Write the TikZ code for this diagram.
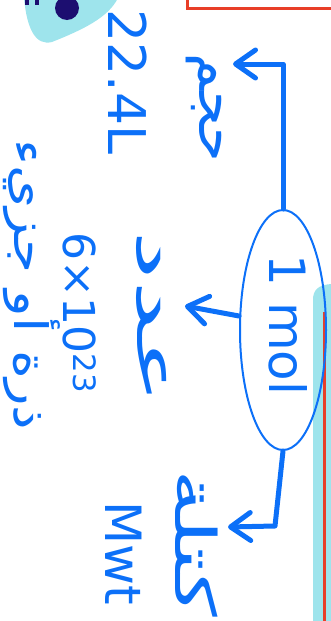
\documentclass[tikz,border=0pt]{standalone}
\usepackage{graphicx}
\usepackage{fontspec}
\setmainfont{DejaVu Sans}
\newfontfamily\arabicfont[Script=Arabic]{DejaVu Sans}
\TeXXeTstate=1
\usetikzlibrary{arrows.meta,shapes.geometric}
\definecolor{pen}{RGB}{12,112,248}
\definecolor{hl}{RGB}{158,228,236}
\definecolor{redline}{RGB}{232,62,40}
\definecolor{navy}{RGB}{28,14,112}
\tikzset{
  conn/.style={draw=pen, line width=5pt, line cap=round, line join=round,
    -{Straight Barb[length=20pt,width=28pt,round]}},
  lbl/.style={text=pen, inner sep=0pt, rotate=-90},
  ar/.style={lbl, font=\arabicfont\fontsize{56}{56}\selectfont},
  lat/.style={lbl, font=\fontsize{50}{50}\selectfont},
}
\begin{document}
\begin{tikzpicture}[x=1pt,y=-1pt]
\useasboundingbox (0,0) rectangle (331,621);
% decorations
\fill[hl] (24,-2) -- (118,-2) .. controls (108,18) and (82,30) .. (52,42)
  .. controls (36,46) and (27,30) .. (24,-2) -- cycle;
\fill[navy] (67,8) circle (12);
\fill[navy] (25,-2) rectangle (29,5);
\fill[navy] (35,-2) rectangle (39,5);
\draw[redline, line width=3pt] (187,-10) -- (187,8) -- (340,8);
\fill[hl] (313,621) -- (313,300) .. controls (313,290) and (318,285) .. (331,284) -- (331,621) -- cycle;
\draw[redline, line width=3pt] (324,312) -- (324,625);
% main node
\node[draw=pen, line width=2pt, ellipse, rotate=-90, minimum width=240pt,
  minimum height=86pt, inner sep=0pt] (mol) at (283,330) {};
\node[lat] (onemol) at (288,325) {1 mol};
% labels
\node[ar] (vol) at (204,108) {\beginR حجم\endR};
\node[lat, font=\fontsize{52}{52}\selectfont] (vl) at (128,82) {22.4L};
\node[ar] (num) at (152,318) {\scalebox{2}[1]{\beginR عدد\endR}};
\node[lat, font=\fontsize{44}{44}\selectfont] (av) at (80,313) {6×10\textsuperscript{23}};
\node[ar, font=\arabicfont\fontsize{46}{46}\selectfont] (part) at (32,285) {\scalebox{1.2}[1]{\beginR ذرة أو جزيء\endR}};
\node[ar] (mass) at (197,543) {\scalebox{1.6}[1]{\beginR كتلة\endR}};
\node[lat] (mw) at (124,553) {Mwt};
% connectors
\coordinate (t1) at (233,64);
\coordinate (t2) at (185,306);
\coordinate (t3) at (228,527);
\draw[conn] (mol.west) -- (t1 -| mol.west) -- (t1);
\draw[conn] ([yshift=14pt]mol.south) -- (t2);
\draw[conn] (mol.east) -- ++(-8,75) -- (t3);
\end{tikzpicture}
\end{document}
